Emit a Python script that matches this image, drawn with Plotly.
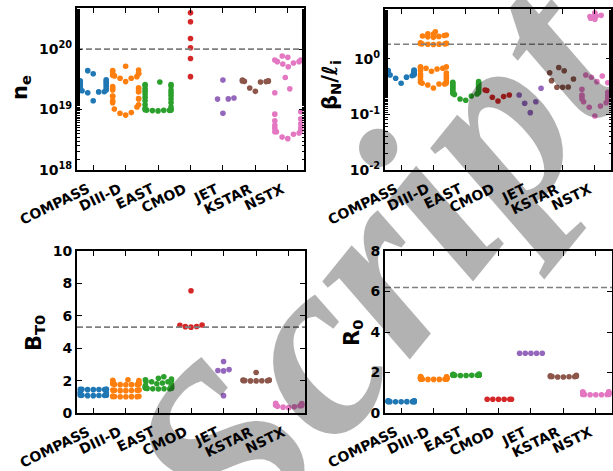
import numpy as np
import plotly.graph_objects as go

machines = ["COMPASS", "DIII-D", "EAST", "CMOD", "JET", "KSTAR", "NSTX"]
colors = ["#1f77b4", "#ff7f0e", "#2ca02c", "#d62728", "#9467bd", "#8c564b", "#e377c2"]

# ---- electron density n_e (units of 1e19 m^-3) ----
ne_compass = [1.4, 1.9, 1.96, 1.97, 2.05, 2.1, 2.2, 2.3, 2.4, 2.5, 2.6, 2.7, 2.8, 2.9, 3.0, 3.1, 3.9, 4.4]
ne_diiid = [0.81, 0.87, 0.89, 1.02, 1.1, 1.2, 1.3, 1.4, 1.5, 1.52, 1.65, 1.67, 1.95, 2.0, 2.1,
            2.2, 2.25, 2.3, 2.4, 2.9, 3.3, 3.3, 3.5, 3.6, 3.7, 3.9, 4.0, 4.2, 4.4, 4.5, 5.2]
ne_east = [0.95, 0.96, 0.97, 0.97, 0.98, 0.98, 0.99, 1.0, 1.05, 1.1, 1.2, 1.3, 1.4, 1.5, 1.6,
           1.7, 1.8, 1.9, 2.0, 2.1, 2.2, 2.45, 2.5, 2.6, 2.6, 2.85]
ne_cmod = [3.5, 7.0, 10.5, 15.0, 28.3, 39.8]
ne_jet = [0.865, 1.49, 1.5, 1.55, 3.07]
ne_kstar = [2.0, 2.27, 2.85, 2.9, 2.93, 2.94, 2.96, 3.0, 3.07]
ne_nstx = [0.33, 0.35, 0.39, 0.41, 0.43, 0.43, 0.45, 0.49, 0.5, 0.55, 0.58, 0.65, 0.7, 0.84, 0.92,
           1.9, 2.2, 3.4, 5.1, 5.65, 5.9, 6.2, 6.2, 6.6, 6.6, 7.3, 7.7]

# ---- normalised beta over internal inductance ----
bl_compass = [0.365, 0.45, 0.47, 0.50, 0.515, 0.52, 0.53, 0.54, 0.55, 0.56, 0.57, 0.58, 0.6, 0.61, 0.62, 0.63]
bl_diiid = [0.30, 0.34, 0.355, 0.355, 0.365, 0.37, 0.38, 0.4, 0.42, 0.45, 0.48, 0.5, 0.53, 0.56, 0.6,
            0.62, 0.66, 0.68, 0.68, 0.7, 0.72, 0.72,
            1.82, 1.84, 1.85, 1.86, 1.87, 1.88, 1.9, 1.92, 1.95,
            2.45, 2.5, 2.55, 2.6, 2.65, 2.7, 2.8, 2.85, 3.1]
bl_east = [0.18, 0.19, 0.215, 0.23, 0.235, 0.24, 0.25, 0.26, 0.27, 0.28, 0.29, 0.3, 0.31, 0.32,
           0.33, 0.34, 0.35, 0.36, 0.37, 0.38, 0.39]
bl_cmod = [0.175, 0.204, 0.21, 0.224, 0.27, 0.276]
bl_jet = [0.108, 0.159, 0.17, 0.224, 0.296]
bl_kstar = [0.31, 0.31, 0.312, 0.407, 0.436, 0.566, 0.615, 0.70]
bl_nstx = [0.094, 0.135, 0.142, 0.163, 0.17, 0.183, 0.19, 0.2, 0.21, 0.22, 0.224, 0.25, 0.285,
           0.374, 0.39, 0.468, 0.494, 0.515, 5.18, 5.4, 5.64, 5.8, 5.95, 6.1, 6.47, 6.8]

# ---- toroidal field B_T0 (T) ----
bt_compass = [1.07, 1.07, 1.08, 1.08, 1.09, 1.09, 1.1, 1.1, 1.2, 1.25, 1.3,
              1.44, 1.44, 1.45, 1.45, 1.46, 1.46, 1.47, 1.47]
bt_diiid = [1.0, 1.0, 1.01, 1.01, 1.02, 1.02, 1.03, 1.04, 1.38, 1.38, 1.39, 1.4, 1.4, 1.41, 1.42, 1.42,
            1.74, 1.75, 1.75, 1.76, 1.77, 1.78, 1.79, 1.8, 1.85, 1.9, 1.95, 2.0, 2.02, 2.05]
bt_east = [1.48, 1.49, 1.5, 1.5, 1.52, 1.53, 1.55, 1.56, 1.58, 1.6, 1.62, 1.65, 1.7, 1.75, 1.8,
           1.85, 1.93, 1.93, 1.95, 2.0, 2.05, 2.1, 2.14, 2.24]
bt_cmod = [5.30, 5.33, 5.34, 5.42, 5.43, 7.55]
bt_jet = [1.07, 2.6, 2.62, 2.68, 3.18]
bt_kstar = [1.98, 1.98, 1.99, 1.99, 2.0, 2.0, 2.02, 2.03, 2.04, 2.5]
bt_nstx = [0.33, 0.36, 0.38, 0.42, 0.45, 0.47, 0.5, 0.5, 0.52, 0.55, 0.58, 0.6]

# ---- major radius R_0 (m) ----
r0_compass = [0.55, 0.55, 0.56, 0.56, 0.56, 0.56, 0.57, 0.57, 0.57, 0.58, 0.58, 0.58, 0.59, 0.59, 0.6, 0.6]
r0_diiid = [1.66, 1.66, 1.66, 1.67, 1.67, 1.67, 1.68, 1.68, 1.69, 1.69, 1.7, 1.7, 1.71, 1.71, 1.72,
            1.72, 1.73, 1.73, 1.74, 1.75, 1.76, 1.77, 1.78, 1.79, 1.8]
r0_east = [1.85, 1.85, 1.86, 1.86, 1.86, 1.87, 1.87, 1.87, 1.88, 1.88, 1.88, 1.89, 1.89, 1.9, 1.9, 1.91, 1.92]
r0_cmod = [0.68, 0.68, 0.68, 0.68, 0.68, 0.68]
r0_jet = [2.95, 2.95, 2.95, 2.95, 2.95]
r0_kstar = [1.78, 1.78, 1.79, 1.79, 1.8, 1.8, 1.82, 1.84, 1.86]
r0_nstx = [0.9, 0.9, 0.9, 0.91, 0.91, 0.92, 0.92, 0.93, 0.93, 0.94, 0.95, 0.96, 0.97, 0.98,
           0.99, 1.0, 1.01, 1.02, 1.03, 1.04, 1.05]

# ITER reference values (dashed lines)
iter_ne = 1.0e20
iter_bl = 1.84
iter_bt = 5.3
iter_r0 = 6.2

W, H = 613, 471
DOT = 5.4          # marker diameter in px used for the swarm layout
SWARM_WIDTH = 0.8  # fraction of a category slot the swarm may occupy


def beeswarm(y_px, d):
    """Seaborn-style beeswarm: returns horizontal pixel offsets."""
    y_px = np.asarray(y_px, float)
    order = np.argsort(y_px, kind="stable")
    ys = y_px[order]
    placed = []
    for y in ys:
        if not placed:
            placed.append((0.0, y))
            continue
        neigh = []
        for xj, yj in reversed(placed):
            if y - yj < d:
                neigh.append((xj, yj))
            else:
                break
        cands = [(0.0, y)]
        left = True
        for xj, yj in neigh:
            dy = y - yj
            dx = np.sqrt(max(d * d - dy * dy, 0.0)) * 1.05
            cl, cr = (xj - dx, y), (xj + dx, y)
            cands += [cl, cr] if left else [cr, cl]
            left = not left
        cands = np.array(cands)
        cands = cands[np.argsort(np.abs(cands[:, 0]))]
        chosen = cands[0]
        if neigh:
            nb = np.array(neigh)
            for c in cands:
                if np.all((nb[:, 0] - c[0]) ** 2 + (nb[:, 1] - c[1]) ** 2 >= d * d - 1e-9):
                    chosen = c
                    break
        placed.append((chosen[0], chosen[1]))
    xs = np.empty(len(ys))
    xs[order] = [p[0] for p in placed]
    return xs


# axes boxes in page pixels: left, right, top, bottom.
# swarm_span: linear data extent the swarm is laid out on (log panels are
# swarmed on a linear axis and then shown on a log axis).
panels = [
    dict(box=(77, 304, 8, 170), log=True, yrange=[18, 20.68], scale=1e19, swarm_span=6.0e20,
         data=[ne_compass, ne_diiid, ne_east, ne_cmod, ne_jet, ne_kstar, ne_nstx], ref=iter_ne,
         tickvals=[1e18, 1e19, 1e20], ticktext=["10<sup>18</sup>", "10<sup>19</sup>", "10<sup>20</sup>"],
         title="n<sub>e</sub>", title_xy=(21, 88)),
    dict(box=(385, 611, 9, 170), log=True, yrange=[-2, 0.9], scale=1.0, swarm_span=9.5,
         data=[bl_compass, bl_diiid, bl_east, bl_cmod, bl_jet, bl_kstar, bl_nstx], ref=iter_bl,
         tickvals=[1e-2, 1e-1, 1], ticktext=["10<sup>-2</sup>", "10<sup>-1</sup>", "10<sup>0</sup>"],
         title="β<sub>N</sub>/ℓ<sub>i</sub>", title_xy=(331, 85)),
    dict(box=(77, 305, 251, 413), log=False, yrange=[0, 10], scale=1.0, swarm_span=10.0,
         data=[bt_compass, bt_diiid, bt_east, bt_cmod, bt_jet, bt_kstar, bt_nstx], ref=iter_bt,
         tickvals=[0, 2, 4, 6, 8, 10], ticktext=["0", "2", "4", "6", "8", "10"],
         title="B<sub>T0</sub>", title_xy=(35, 333)),
    dict(box=(385, 612, 251, 413), log=False, yrange=[0, 8], scale=1.0, swarm_span=8.0,
         data=[r0_compass, r0_diiid, r0_east, r0_cmod, r0_jet, r0_kstar, r0_nstx], ref=iter_r0,
         tickvals=[0, 2, 4, 6, 8], ticktext=["0", "2", "4", "6", "8"],
         title="R<sub>0</sub>", title_xy=(353, 333)),
]

fig = go.Figure()
tick_font = dict(family="DejaVu Sans", size=14, color="black", weight="bold")

for k, p in enumerate(panels):
    idx = "" if k == 0 else str(k + 1)
    xa, ya = "x" + idx, "y" + idx
    left, right, top, bottom = p["box"]
    width_px = right - left
    height_px = bottom - top
    cat_px = width_px / 7.0
    px_per_unit = height_px / p["swarm_span"]

    for i, vals in enumerate(p["data"]):
        v = np.asarray(vals, float) * p["scale"]
        offs = beeswarm(v * px_per_unit, DOT) / cat_px
        offs = np.clip(offs, -SWARM_WIDTH / 2, SWARM_WIDTH / 2)
        fig.add_trace(go.Scatter(
            x=i + offs, y=v, mode="markers", xaxis=xa, yaxis=ya, showlegend=False,
            marker=dict(size=5.6, color=colors[i], line=dict(width=0)),
            cliponaxis=False))

    fig.add_trace(go.Scatter(
        x=[-0.5, 6.5], y=[p["ref"], p["ref"]], mode="lines", xaxis=xa, yaxis=ya,
        showlegend=False, line=dict(color="#7f7f7f", width=1.6, dash="6px,3px")))

    xdom = [left / W, right / W]
    ydom = [1 - bottom / H, 1 - top / H]
    xkw = dict(domain=xdom, range=[-0.5, 6.5], tickvals=list(range(7)), showticklabels=False,
               showline=True, linewidth=2, linecolor="black", mirror="allticks",
               ticks="inside", ticklen=5, tickwidth=1, tickcolor="black", showgrid=False,
               zeroline=False, anchor=ya, automargin=False)
    ykw = dict(domain=ydom, range=p["yrange"], tickvals=p["tickvals"], ticktext=p["ticktext"],
               showline=True, linewidth=2, linecolor="black", mirror="allticks",
               ticks="inside", ticklen=5, tickwidth=1, tickcolor="black", showgrid=False,
               zeroline=False, tickfont=tick_font, anchor=xa, automargin=False)
    if p["log"]:
        ykw["type"] = "log"
        ykw["minor"] = dict(ticks="inside", ticklen=2.5, tickwidth=1, tickcolor="black",
                            showgrid=False)
    fig.layout["xaxis" + idx] = xkw
    fig.layout["yaxis" + idx] = ykw

    # rotated category labels, right end under each tick
    for i, name in enumerate(machines):
        fig.add_annotation(x=i, y=1 - (bottom + 9) / H, xref=xa, yref="paper", text=name,
                           textangle=-26, showarrow=False, xanchor="right", yanchor="top",
                           xshift=0, borderpad=0,
                           font=dict(family="DejaVu Sans", size=14, color="black", weight="bold"))

    tx, ty = p["title_xy"]
    fig.add_annotation(x=tx / W, y=1 - ty / H, xref="paper", yref="paper", text=p["title"],
                       textangle=-90, showarrow=False, xanchor="center", yanchor="middle",
                       font=dict(family="DejaVu Sans", size=21, color="black", weight="bold"))

# large translucent watermark
fig.add_annotation(x=378 / W, y=1 - 262 / H, xref="paper", yref="paper", text="Script",
                   textangle=-51, showarrow=False, xanchor="center", yanchor="middle",
                   font=dict(family="Liberation Serif", size=255, color="rgba(0,0,0,0.3)",
                             style="italic", weight="bold"))

fig.update_layout(width=W, height=H,
                  margin=dict(l=0, r=0, t=0, b=0, pad=0, autoexpand=False),
                  paper_bgcolor="white", plot_bgcolor="white")

fig.write_html("out.html")
